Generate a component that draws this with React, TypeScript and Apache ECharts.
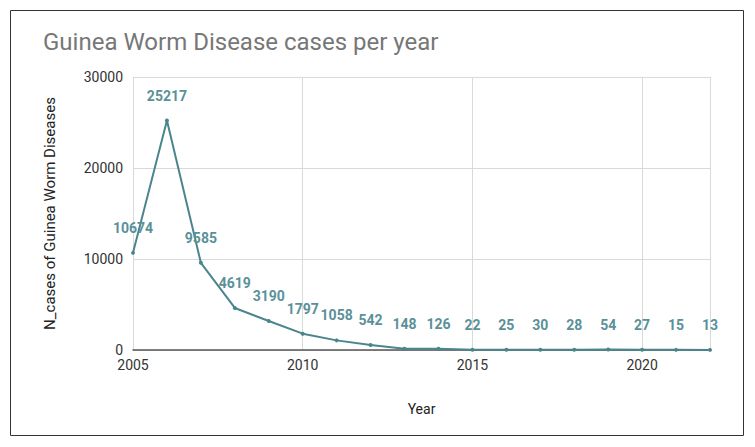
import React, { useEffect, useRef } from "react";
import * as echarts from "echarts";

const years = [2005, 2006, 2007, 2008, 2009, 2010, 2011, 2012, 2013, 2014, 2015, 2016, 2017, 2018, 2019, 2020, 2021, 2022];
const cases = [10674, 25217, 9585, 4619, 3190, 1797, 1058, 542, 148, 126, 22, 25, 30, 28, 54, 27, 15, 13];
const title = "Guinea Worm Disease cases per year";
const xName = "Year";
const yName = "N_cases of Guinea Worm Diseases";

export default function App() {
  const ref = useRef<HTMLDivElement>(null);
  useEffect(() => {
    if (!ref.current) return;
    const chart = echarts.init(ref.current, null, { renderer: "svg" });
    const data = years.map((y, i) => [y, cases[i]]);
    chart.setOption({
      animation: false,
      backgroundColor: "#ffffff",
      textStyle: { fontFamily: "Roboto" },
      title: {
        text: title,
        left: 38,
        top: 25,
        textStyle: { fontFamily: "Roboto", fontSize: 24, fontWeight: "normal", color: "#777777" },
      },
      graphic: [
        {
          type: "rect",
          shape: { x: 10.5, y: 10.5, width: 733, height: 425 },
          style: { fill: "none", stroke: "#333333", lineWidth: 1 },
          silent: true,
          z: 100,
        },
      ],
      grid: { left: 133, right: 45, top: 77, bottom: 97, containLabel: false },
      xAxis: {
        type: "value",
        min: 2005,
        max: 2022,
        interval: 5,
        name: xName,
        nameLocation: "middle",
        nameGap: 52,
        nameTextStyle: { fontFamily: "Roboto", fontSize: 14, color: "#222222" },
        axisLine: { show: true, lineStyle: { color: "#555555", width: 1.5 } },
        axisTick: { show: false },
        axisLabel: {
          fontFamily: "Roboto",
          fontSize: 14,
          color: "#333333",
          margin: 8,
          showMaxLabel: false,
          formatter: (v: number) => String(v),
        },
        splitLine: { show: true, lineStyle: { color: "#d9d9d9", width: 1 } },
      },
      yAxis: {
        type: "value",
        min: 0,
        max: 30000,
        interval: 10000,
        name: yName,
        nameLocation: "middle",
        nameGap: 76,
        nameTextStyle: { fontFamily: "Roboto", fontSize: 15, color: "#222222" },
        axisLine: { show: false },
        axisTick: { show: false },
        axisLabel: { fontFamily: "Roboto", fontSize: 14, color: "#333333", margin: 10, formatter: (v: number) => String(v) },
        splitLine: { show: true, lineStyle: { color: "#d9d9d9", width: 1 } },
      },
      series: [
        {
          type: "line",
          data,
          symbol: "circle",
          symbolSize: 4,
          lineStyle: { color: "#4a858e", width: 2 },
          itemStyle: { color: "#4a858e" },
          label: {
            show: true,
            position: "top",
            distance: 16,
            fontFamily: "Roboto",
            fontSize: 14,
            fontWeight: "bold",
            color: "#5a9199",
          },
        },
      ],
    });
    return () => chart.dispose();
  }, []);
  return <div ref={ref} style={{ position: "absolute", left: 0, top: 0, width: 755, height: 447 }} />;
}
